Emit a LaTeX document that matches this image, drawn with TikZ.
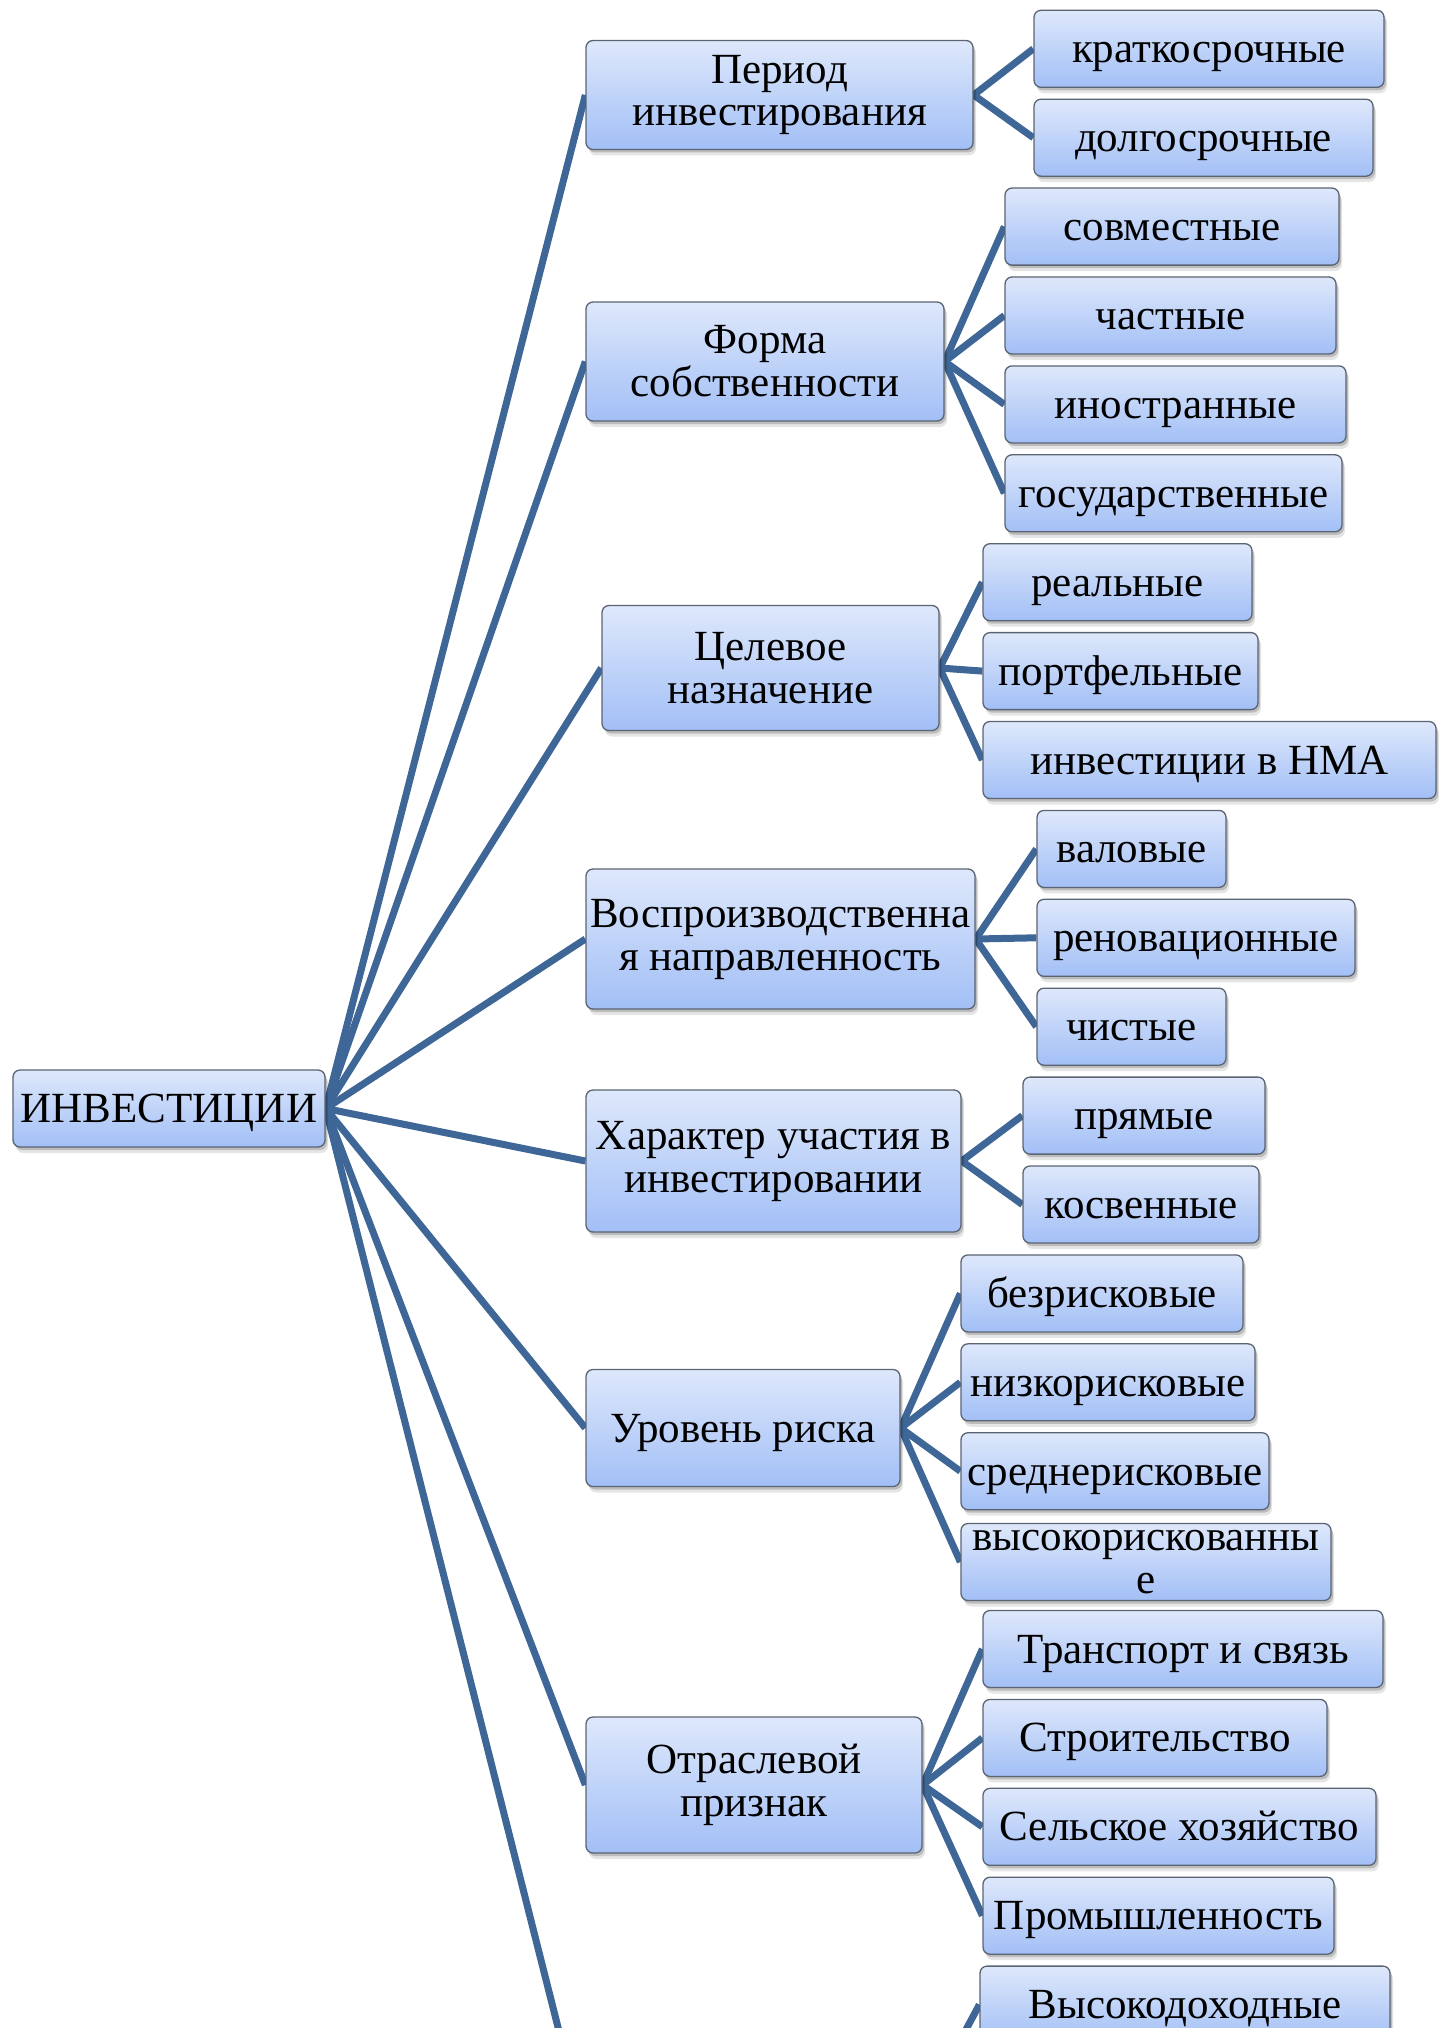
\documentclass[tikz,border=0pt]{standalone}
\usepackage{fontspec}
\setmainfont{Liberation Serif}
\usetikzlibrary{shadows}
\definecolor{boxtop}{RGB}{222,232,251}
\definecolor{boxbot}{RGB}{162,191,246}
\definecolor{boxline}{RGB}{90,100,115}
\definecolor{linkc}{RGB}{62,102,150}
\pgfdeclarelayer{bg}
\pgfsetlayers{bg,main}
\tikzset{
  bx/.style={draw=boxline, line width=1.3pt, rounded corners=7pt,
    top color=boxtop, bottom color=boxbot, inner sep=0pt, align=center,
    font=\fontsize{43}{43}\selectfont, text=black,
    general shadow={fill=black, opacity=0.10, shadow xshift=3pt, shadow yshift=-6pt},
    general shadow={fill=black, opacity=0.18, shadow xshift=2pt, shadow yshift=-3pt}},
  oneline/.style={text height=31pt, text depth=3pt},
  leaf/.style={bx, oneline, minimum height=77},
  link/.style={draw=linkc, line width=7pt}
}
\begin{document}
\begin{tikzpicture}[x=1pt, y=-1pt]
\useasboundingbox (0,0) rectangle (1439,2028);
\clip (0,0) rectangle (1439,2028);
% root
\node[leaf, minimum width=312] (r) at (169,1108.5) {ИНВЕСТИЦИИ};
% level 1
\node[bx, minimum width=387, minimum height=109] (p1) at (779.5,95) {Период\\инвестирования};
\node[bx, minimum width=358, minimum height=119] (p2) at (765,361.5) {Форма\\собственности};
\node[bx, minimum width=337, minimum height=125] (p3) at (770.5,668) {Целевое\\назначение};
\node[bx, minimum width=389, minimum height=140] (p4) at (780.5,939) {Воспроизводственна\\я направленность};
\node[bx, minimum width=375, minimum height=142] (p5) at (773.5,1161) {Характер участия в\\инвестировании};
\node[bx, oneline, minimum width=314, minimum height=117] (p6) at (743,1428) {Уровень риска};
\node[bx, minimum width=336, minimum height=136] (p7) at (754,1785) {Отраслевой\\признак};
\coordinate (p8w) at (586,2138);
\coordinate (p8e) at (908,2138);
% level 2
\node[leaf, minimum width=350] (a0) at (1209,48.8) {краткосрочные};
\node[leaf, minimum width=339] (a1) at (1203.5,137.7) {долгосрочные};
\node[leaf, minimum width=334] (a2) at (1172,226.6) {совместные};
\node[leaf, minimum width=331] (a3) at (1170.5,315.5) {частные};
\node[leaf, minimum width=341] (a4) at (1175.5,404.4) {иностранные};
\node[leaf, minimum width=337] (a5) at (1173.5,493.3) {государственные};
\node[leaf, minimum width=269] (a6) at (1117.5,582.2) {реальные};
\node[leaf, minimum width=275] (a7) at (1120.5,671.1) {портфельные};
\node[leaf, minimum width=453] (a8) at (1209.5,760) {инвестиции в НМА};
\node[leaf, minimum width=189] (a9) at (1131.5,848.9) {валовые};
\node[leaf, minimum width=318] (a10) at (1196,937.8) {реновационные};
\node[leaf, minimum width=189] (a11) at (1131.5,1026.7) {чистые};
\node[leaf, minimum width=242] (a12) at (1144,1115.6) {прямые};
\node[leaf, minimum width=236] (a13) at (1141,1204.5) {косвенные};
\node[leaf, minimum width=282] (a14) at (1102,1293.4) {безрисковые};
\node[leaf, minimum width=294] (a15) at (1108,1382.3) {низкорисковые};
\node[leaf, minimum width=308] (a16) at (1115,1471.2) {среднерисковые};
\node[bx, minimum width=370, minimum height=77] (a17) at (1146,1562) {высокорискованны\\е};
\node[leaf, minimum width=400] (a18) at (1183,1649) {Транспорт и связь};
\node[leaf, minimum width=344] (a19) at (1155,1737.9) {Строительство};
\node[leaf, minimum width=393] (a20) at (1179.5,1826.8) {Сельское хозяйство};
\node[leaf, minimum width=351] (a21) at (1158.5,1915.7) {Промышленность};
\node[leaf, minimum width=410] (a22) at (1185,2004.6) {Высокодоходные};
% connectors
\begin{pgfonlayer}{bg}
\clip (0,0) rectangle (1439,2028);
\foreach \t in {p1,p2,p3,p4,p5,p6,p7} \draw[link] (r.east) -- (\t.west);
\draw[link] (r.east) -- (p8w);
\foreach \t in {a0,a1} \draw[link] (p1.east) -- (\t.west);
\foreach \t in {a2,a3,a4,a5} \draw[link] (p2.east) -- (\t.west);
\foreach \t in {a6,a7,a8} \draw[link] (p3.east) -- (\t.west);
\foreach \t in {a9,a10,a11} \draw[link] (p4.east) -- (\t.west);
\foreach \t in {a12,a13} \draw[link] (p5.east) -- (\t.west);
\foreach \t in {a14,a15,a16,a17} \draw[link] (p6.east) -- (\t.west);
\foreach \t in {a18,a19,a20,a21} \draw[link] (p7.east) -- (\t.west);
\draw[link] (p8e) -- (a22.west);
\end{pgfonlayer}
\end{tikzpicture}
\end{document}
